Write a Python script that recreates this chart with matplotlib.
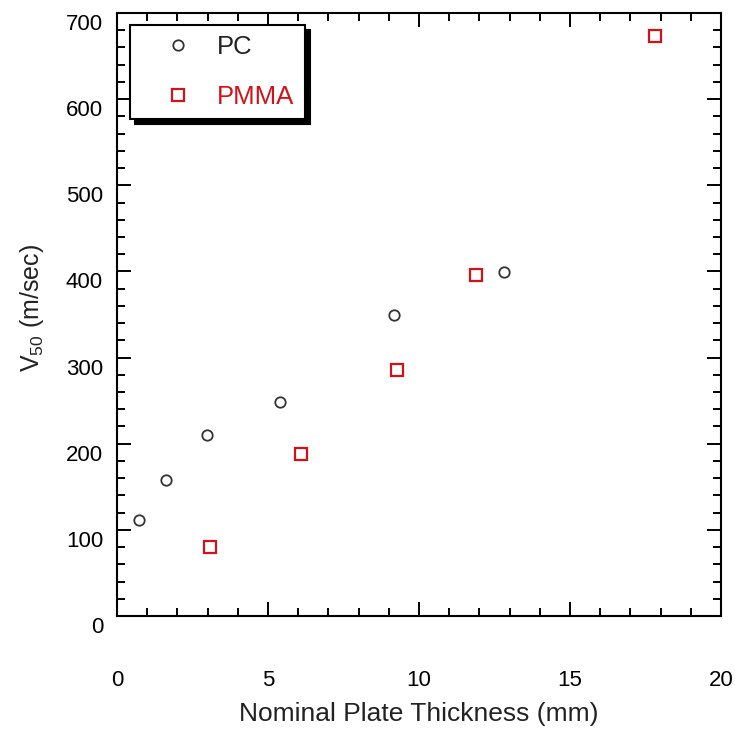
import matplotlib
matplotlib.use("Agg")
import matplotlib.pyplot as plt
from matplotlib.patches import Shadow
from matplotlib.ticker import MultipleLocator
from matplotlib.transforms import ScaledTranslation

plt.rcParams['font.family'] = ['Liberation Sans', 'DejaVu Sans']
plt.rcParams['mathtext.fontset'] = 'custom'
plt.rcParams['mathtext.rm'] = 'Liberation Sans'
plt.rcParams['mathtext.it'] = 'Liberation Sans'

pc_x = [0.73, 1.62, 2.98, 5.40, 9.17, 12.81]
pc_y = [111, 158, 210, 248, 349, 399]
pmma_x = [3.08, 6.09, 9.27, 11.89, 17.81]
pmma_y = [80, 188, 286, 396, 673]

fig = plt.figure(figsize=(7.35, 7.31), dpi=100)
ax = fig.add_axes([117/735, 1 - 616/731, 604/735, 603/731])

ax.plot(pc_x, pc_y, linestyle='none', marker='o', markersize=7.5,
        markerfacecolor='none', markeredgecolor='#333333', markeredgewidth=1.3,
        label='PC')
ax.plot(pmma_x, pmma_y, linestyle='none', marker='s', markersize=8,
        markerfacecolor='none', markeredgecolor='#d0131b', markeredgewidth=1.6,
        label='PMMA')

ax.set_xlim(0, 20)
ax.set_ylim(0, 700)
ax.xaxis.set_major_locator(MultipleLocator(5))
ax.xaxis.set_minor_locator(MultipleLocator(1))
ax.yaxis.set_major_locator(MultipleLocator(100))
ax.yaxis.set_minor_locator(MultipleLocator(20))
ax.tick_params(which='both', direction='in', top=True, right=True, colors='black')
ax.tick_params(which='major', length=10, width=1.4, labelsize=16)
ax.tick_params(which='minor', length=5.5, width=1.4)
ax.tick_params(axis='x', which='major', pad=39)
ax.tick_params(axis='y', which='major', pad=10)
for s in ax.spines.values():
    s.set_linewidth(1.5)

ax.set_xlabel('Nominal Plate Thickness (mm)', fontsize=19, labelpad=8, color='#222222')
ax.set_ylabel(r'V$_{\mathregular{50}}$ (m/sec)', fontsize=18, labelpad=14, color='#222222')
ax.yaxis.label.set_y(0.51)

leg = ax.legend(loc='upper left', bbox_to_anchor=(13/604, 1 - 12/603), borderaxespad=0,
                fontsize=18.5, frameon=True, fancybox=False, framealpha=1,
                edgecolor='black', handletextpad=0.1, borderpad=0.4,
                labelspacing=1.0, handlelength=2.9)
leg.get_frame().set_linewidth(1.5)
leg.get_texts()[0].set_color('#222222')
leg.get_texts()[1].set_color('#d0131b')
leg.set_zorder(10)

fig.canvas.draw()
offset = ScaledTranslation(0, -0.09, fig.dpi_scale_trans)
for t in ax.yaxis.get_major_ticks():
    t.label1.set_transform(t.label1.get_transform() + offset)
sh = Shadow(leg.legendPatch, 3.6, -3.6, facecolor='black', edgecolor='black', alpha=1)
sh.set_zorder(9)
ax.add_artist(sh)

fig.savefig('out.png', dpi=100)
